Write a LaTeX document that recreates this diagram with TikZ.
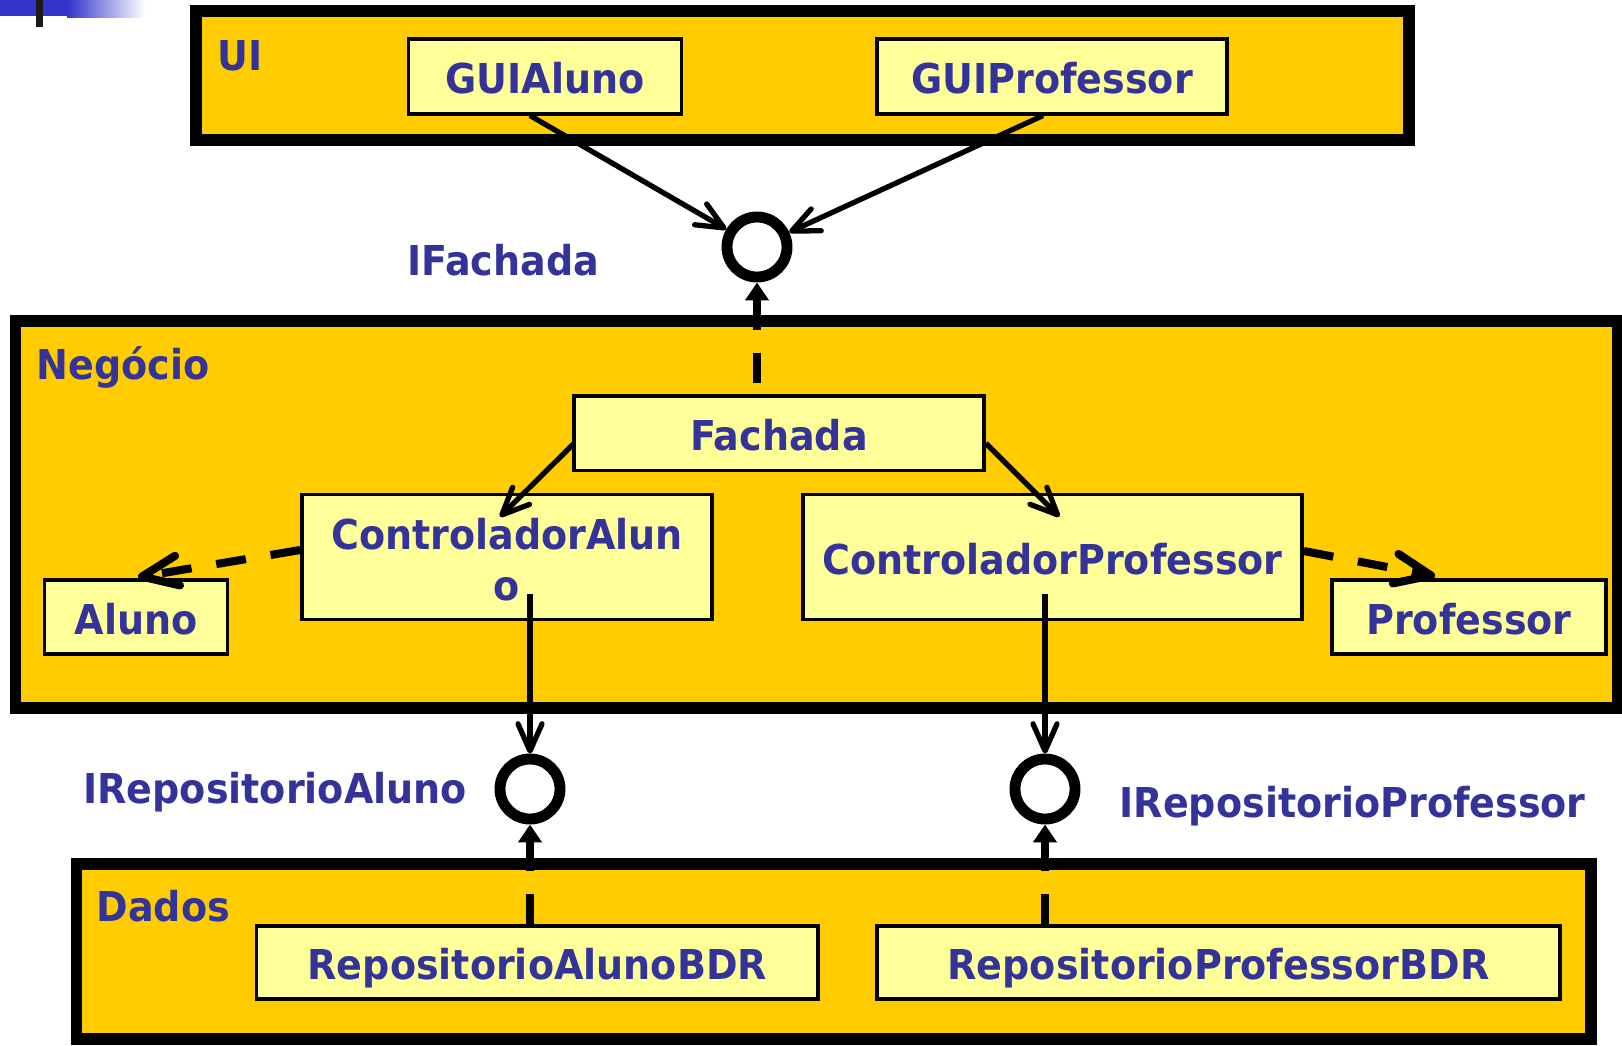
\documentclass[tikz,border=0pt]{standalone}
\usepackage{fontspec}
\setmainfont{DejaVu Sans}[FakeStretch=0.925]
\usetikzlibrary{arrows.meta,calc}
\definecolor{layeryellow}{HTML}{FFCC00}
\definecolor{classyellow}{HTML}{FFFF99}
\definecolor{textblue}{HTML}{333399}
\definecolor{barblue}{HTML}{3333CC}

\begin{document}
\begin{tikzpicture}[x=0.01cm, y=-0.01cm,
  layer/.style={line width=3.2pt, draw=black, fill=layeryellow},
  classbox/.style={draw=black, line width=1pt, fill=classyellow, inner sep=0pt,
    text=textblue, font=\bfseries\fontsize{11.7}{14.6}\selectfont, align=center,
    text height=0.34cm, text depth=0pt},
  iface/.style={circle, draw=black, line width=3.1pt, fill=white, minimum size=0.6cm, inner sep=0pt},
  lbl/.style={text=textblue, font=\bfseries\fontsize{11.7}{14.6}\selectfont, inner sep=0pt, anchor=base west},
  uses/.style={-{Straight Barb[length=0.27cm, width=0.24cm, round]}, line width=1.5pt},
  depends/.style={-{Straight Barb[length=0.36cm, width=0.3cm, round]}, line width=2.3pt,
    dash pattern=on 0.3cm off 0.25cm},
  realizes/.style={-{Triangle[length=0.18cm, width=0.23cm]}, line width=2.3pt,
    dash pattern=on 0.3cm off 0.23cm}]
  \useasboundingbox (0,0) rectangle (1622,1045);

  % slide bar (top left)
  \fill[barblue] (0,0) rectangle (67,16);
  \shade[left color=barblue, right color=white] (67,0) rectangle (145,17);
  \fill[black!90] (36,0) rectangle (43,27);

  % Layers
  \draw[layer] (196,11) rectangle (1409,140);
  \draw[layer] (15.5,321) rectangle (1618,708);
  \draw[layer] (76.5,864) rectangle (1591,1039);
  \node[lbl] (lblui) at (217,70.3) {UI};
  \node[lbl] (lblnegocio) at (36,379) {Negócio};
  \node[lbl] (lbldados) at (96,921) {Dados};

  % Classes
  \node[classbox, minimum width=2.73cm, minimum height=0.745cm] (GUIAluno) at (545,76.5) {GUIAluno};
  \node[classbox, minimum width=3.5cm, minimum height=0.745cm] (GUIProfessor) at (1052,76.5) {GUIProfessor};
  \node[classbox, minimum width=4.1cm, minimum height=0.746cm] (Fachada) at (779,433.3) {Fachada};
  \node[classbox, minimum width=4.1cm, minimum height=1.25cm, text height=0.87cm] (ControladorAluno) at (507,557) {ControladorAlun\\o};
  \node[classbox, minimum width=4.99cm, minimum height=1.25cm] (ControladorProfessor) at (1052.4,557) {ControladorProfessor};
  \node[classbox, minimum width=1.83cm, minimum height=0.74cm] (Aluno) at (136,617) {Aluno};
  \node[classbox, minimum width=2.74cm, minimum height=0.74cm] (Professor) at (1469,617) {Professor};
  \node[classbox, minimum width=5.615cm, minimum height=0.732cm] (RepositorioAlunoBDR) at (537.3,962.4) {RepositorioAlunoBDR};
  \node[classbox, minimum width=6.83cm, minimum height=0.732cm] (RepositorioProfessorBDR) at (1218.5,962.4) {RepositorioProfessorBDR};

  % Interfaces
  \node[iface] (ifachada) at (757,247) {};
  \node[iface] (irepaluno) at (530,789) {};
  \node[iface] (irepprof) at (1045,789) {};
  \node[lbl] (lblifachada) at (406.5,275.7) {IFachada};
  \node[lbl] (lblirepaluno) at (82.7,803) {IRepositorioAluno};
  \node[lbl] (lblirepprof) at (1119,817.7) {IRepositorioProfessor};

  % UI -> IFachada
  \draw[uses] ($(GUIAluno.south)+(-15,0)$) -- (ifachada);
  \draw[uses] ($(GUIProfessor.south)+(-9,0)$) -- (ifachada);
  \draw[realizes, dash phase=0.42cm] (ifachada |- Fachada.north) -- (ifachada);

  % Negocio
  \draw[uses] ($(Fachada.west)+(2,10)$) -- ($(ControladorAluno.north)+(-7,24)$);
  \draw[uses] ($(Fachada.east)+(0,10)$) -- ($(ControladorProfessor.north)+(7,24)$);
  \draw[depends] ($(ControladorAluno.west)+(0,-7)$) -- ($(Aluno.north)+(2,-1)$);
  \draw[depends] ($(ControladorProfessor.east)+(0,-6)$) -- ($(Professor.north)+(-34,-2)$);

  % Negocio -> Dados
  \draw[uses] ($(irepaluno |- ControladorAluno.south)+(0,-27)$) -- (irepaluno);
  \draw[uses] ($(irepprof |- ControladorProfessor.south)+(0,-27)$) -- (irepprof);
  \draw[realizes] (irepaluno |- RepositorioAlunoBDR.north) -- (irepaluno);
  \draw[realizes] (irepprof |- RepositorioProfessorBDR.north) -- (irepprof);
\end{tikzpicture}
\end{document}
